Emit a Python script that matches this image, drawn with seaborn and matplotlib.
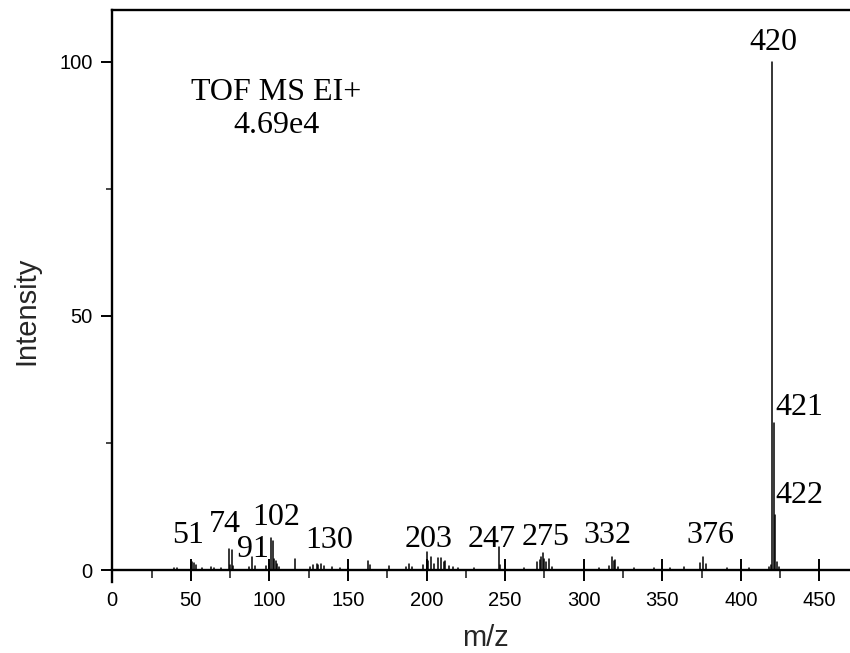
import numpy as np
import pandas as pd
import matplotlib
matplotlib.use("Agg")
import matplotlib.pyplot as plt
from matplotlib.ticker import MultipleLocator
import seaborn as sns

# EI mass spectrum: m/z positions and relative intensities (%)
mz = [39, 41, 50, 51, 52, 53, 57, 63, 65, 69,
      74, 75, 76, 77, 87, 89, 91, 98, 100, 101,
      102, 103, 104, 105, 106, 116, 126, 128, 130, 131,
      133, 135, 140, 145, 150, 163, 164, 176, 187, 189,
      191, 198, 200, 201, 203, 205, 207, 209, 211, 212,
      214, 217, 220, 230, 246, 247, 262, 270, 272, 273,
      274, 275, 276, 278, 280, 300, 310, 316, 318, 319,
      320, 322, 332, 345, 355, 364, 374, 376, 378, 391,
      405, 418, 419, 420, 421, 422, 423, 424]
intensity = [0.3, 0.4, 1.2, 1.6, 1.3, 1.0, 0.3, 0.5, 0.4, 0.3,
             4.1, 1.0, 3.9, 0.8, 0.6, 2.5, 0.8, 0.7, 1.2, 6.3,
             5.8, 2.2, 1.8, 1.2, 0.6, 2.1, 0.5, 1.0, 1.2, 0.9,
             1.1, 0.7, 0.5, 0.4, 0.3, 1.8, 1.0, 0.8, 0.6, 1.2,
             0.5, 1.0, 3.6, 1.8, 2.6, 1.2, 2.3, 2.3, 1.6, 1.7,
             0.8, 0.5, 0.3, 0.4, 4.6, 1.0, 0.4, 1.5, 2.0, 2.5,
             3.3, 2.2, 1.5, 2.2, 0.6, 0.4, 0.3, 0.8, 2.6, 1.8,
             1.9, 0.5, 0.3, 0.3, 0.3, 0.5, 1.4, 2.6, 1.2, 0.3,
             0.3, 0.5, 1.0, 100.0, 28.9, 10.8, 1.5, 0.5]

# Annotated fragment ions: text, anchor x, baseline y, alignment
peak_labels = ["51", "74", "91", "102", "130", "203", "247", "275",
               "332", "376", "420", "421", "422"]
label_x = [48.2, 71.7, 89.6, 104.6, 137.9, 201.0, 241.6, 275.8,
           315.3, 380.9, 420.9, 422.0, 422.0]
label_y = [5.25, 7.5, 2.6, 8.9, 4.3, 4.6, 4.6, 4.9,
           5.25, 5.25, 102.4, 30.5, 13.2]
label_ha = ["center"] * 11 + ["left", "left"]

x_ticks = [0, 50, 100, 150, 200, 250, 300, 350, 400, 450]
y_ticks = [0, 50, 100]

# Stick spectrum: each ion is a vertical segment from the baseline to its intensity
sticks = pd.DataFrame({
    "mz": np.repeat(mz, 2),
    "intensity": np.column_stack([np.zeros(len(intensity)), intensity]).ravel(),
    "ion": np.repeat(np.arange(len(mz)), 2),
})

sns.set_theme(style="ticks")
plt.rcParams["font.family"] = ["Liberation Sans", "DejaVu Sans"]

fig = plt.figure(figsize=(8.5, 6.53), dpi=100)
ax = fig.add_axes([0.1321, 0.1092, 0.868, 0.8755])

sns.lineplot(data=sticks, x="mz", y="intensity", units="ion", estimator=None,
             sort=False, color="black", linewidth=1.1, ax=ax, legend=False)

ax.set_xlim(0, 469.5)
ax.set_ylim(-2.3, 110.2)

for spine in ax.spines.values():
    spine.set_linewidth(1.7)
    spine.set_color("black")
ax.spines["right"].set_visible(False)
ax.spines["bottom"].set_position(("data", 0))

ax.set_xticks(x_ticks)
ax.set_yticks(y_ticks)
ax.xaxis.set_minor_locator(MultipleLocator(25))
ax.yaxis.set_minor_locator(MultipleLocator(25))
ax.tick_params(axis="x", which="major", direction="inout", length=16, width=1.4,
               pad=7, labelsize=14.5, colors="black", top=False)
ax.tick_params(axis="x", which="minor", direction="out", length=6, width=1.2, top=False)
ax.tick_params(axis="y", which="major", direction="out", length=8, width=1.4,
               pad=6, labelsize=14.5, colors="black", right=False)
ax.tick_params(axis="y", which="minor", direction="out", length=4, width=1.2, right=False)

ax.set_xlabel("m/z", fontsize=21)
ax.set_ylabel("Intensity", fontsize=21)
ax.xaxis.set_label_coords(0.506, -0.074)
ax.yaxis.set_label_coords(-0.098, 0.4735)

serif = ["Liberation Serif", "DejaVu Serif"]
for text, x, y, ha in zip(peak_labels, label_x, label_y, label_ha):
    ax.text(x, y, text, ha=ha, va="baseline", fontsize=23, family=serif, color="black")

ax.text(104.6, 92.4, "TOF MS EI+", ha="center", va="baseline", fontsize=23,
        family=serif, color="black")
ax.text(104.6, 86.0, "4.69e4", ha="center", va="baseline", fontsize=23,
        family=serif, color="black")

fig.savefig("out.png", dpi=100)
